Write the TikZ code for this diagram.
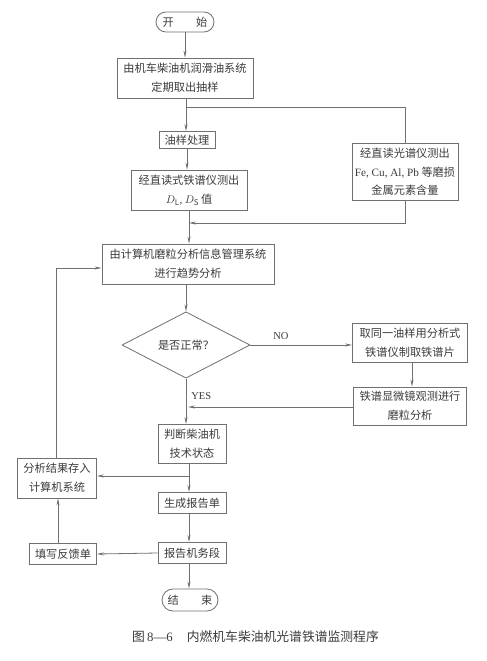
\documentclass[tikz,border=0pt]{standalone}
\usepackage{fontspec}
\setmainfont{Noto Sans CJK SC}
\newfontfamily\lat{Liberation Serif}
\usetikzlibrary{arrows.meta,shapes.geometric,shapes.misc}
\definecolor{ink}{HTML}{3C3C3C}
\definecolor{wire}{HTML}{707070}
\tikzset{
  box/.style={draw=wire, line width=0.8pt, text=ink, align=center, inner sep=0pt,
    font=\fontsize{11.2}{19}\selectfont},
  term/.style={box, rounded rectangle},
  dia/.style={box, diamond},
  arr/.style={draw=wire, line width=0.8pt, -{Stealth[length=7pt,width=3pt]}},
  ln/.style={draw=wire, line width=0.8pt},
  lbl/.style={text=ink, inner sep=0pt, font=\lat\fontsize{10.5}{12}\selectfont},
}
\begin{document}
\begin{tikzpicture}[x=1pt,y=-1pt]
\useasboundingbox (0,0) rectangle (487,661);
\fill[white] (0,0) rectangle (487,661);
% nodes
\node[term, minimum width=58pt, minimum height=20pt] (start) at (185,22) {开\hspace{2em}始};
\node[box, minimum width=136pt, minimum height=40pt] (b1) at (185,78) {由机车柴油机润滑油系统\\定期取出抽样};
\node[box, minimum width=56pt, minimum height=17pt] (b2) at (187,140) {油样处理};
\node[box, minimum width=116pt, minimum height=40pt] (b3) at (189,190) {经直读式铁谱仪测出\\$D_{\mathrm{L}}${\lat ,} $D_{\mathrm{S}}$\,值};
\node[box, minimum width=106pt, minimum height=57pt, font=\fontsize{11.2}{18.5}\selectfont] (spec) at (405,172) {经直读光谱仪测出\\{\lat Fe, Cu, Al, Pb} 等磨损\\金属元素含量};
\node[box, minimum width=172pt, minimum height=40pt] (trend) at (188,264) {由计算机磨粒分析信息管理系统\\进行趋势分析};
\node[dia, minimum width=128pt, minimum height=63pt] (dec) at (186,345) {是否正常？};
\node[box, minimum width=115pt, minimum height=39pt] (take) at (410,343) {取同一油样用分析式\\铁谱仪制取铁谱片};
\node[box, minimum width=113pt, minimum height=38pt] (micro) at (410,406) {铁谱显微镜观测进行\\磨粒分析};
\node[box, minimum width=68pt, minimum height=39pt] (judge) at (192,444) {判断柴油机\\技术状态};
\node[box, minimum width=79pt, minimum height=40pt] (store) at (57,478) {分析结果存入\\计算机系统};
\node[box, minimum width=68pt, minimum height=21pt] (gen) at (192,503) {生成报告单};
\node[box, minimum width=68pt, minimum height=21pt] (rep) at (192,553) {报告机务段};
\node[box, minimum width=67pt, minimum height=21pt] (fill) at (63,554) {填写反馈单};
\node[term, minimum width=56pt, minimum height=22pt] (end) at (190,600) {结\hspace{2em}束};
\node[text=ink, inner sep=0pt, anchor=west, font=\fontsize{12.8}{15}\selectfont] (cap) at (132,637) {图\,{\lat 8—6}\hspace{1.1em}内燃机车柴油机光谱铁谱监测程序};
% coordinates
\coordinate (j0) at (186,107);
\coordinate (j1) at (189,223);
\coordinate (j2) at (188,407);
\coordinate (j3) at (189,476);
\coordinate (j4) at (56,268);
% connectors
\draw[arr] (start.south) -- (start.south |- b1.north);
\draw[arr] (j0 |- b1.south) -- (j0 |- b2.north);
\draw[ln] (j0) -| (spec.north);
\draw[arr] (b2.south) -- (b2.south |- b3.north);
\draw[arr] (j1 |- b3.south) -- (j1 |- trend.north);
\draw[arr] (spec.south) |- (j1);
\draw[arr] (trend.south -| dec.north) -- (dec.north);
\draw[arr] (dec.east) -- (dec.east -| take.west) node[lbl, pos=0.3, above=5pt] {NO};
\draw[arr] (take.south -| 412,0) -- (micro.north -| 412,0);
\draw[arr] (micro.west |- j2) -- (j2);
\draw[arr] (dec.south) -- (dec.south |- judge.north) node[lbl, pos=0.38, right=5pt] {YES};
\draw[arr] (j3 |- judge.south) -- (j3 |- gen.north);
\draw[arr] (j3) -- (j3 -| store.east);
\draw[arr] (gen.south -| j3) -- (rep.north -| j3);
\draw[arr] (rep.west) -- (fill.east);
\draw[arr] (fill.north -| 58,0) -- (store.south -| 58,0);
\draw[arr] (store.north -| j4) -- (j4) -- (j4 -| trend.west);
\draw[arr] (rep.south -| j3) -- (end.north -| j3);
\end{tikzpicture}
\end{document}
